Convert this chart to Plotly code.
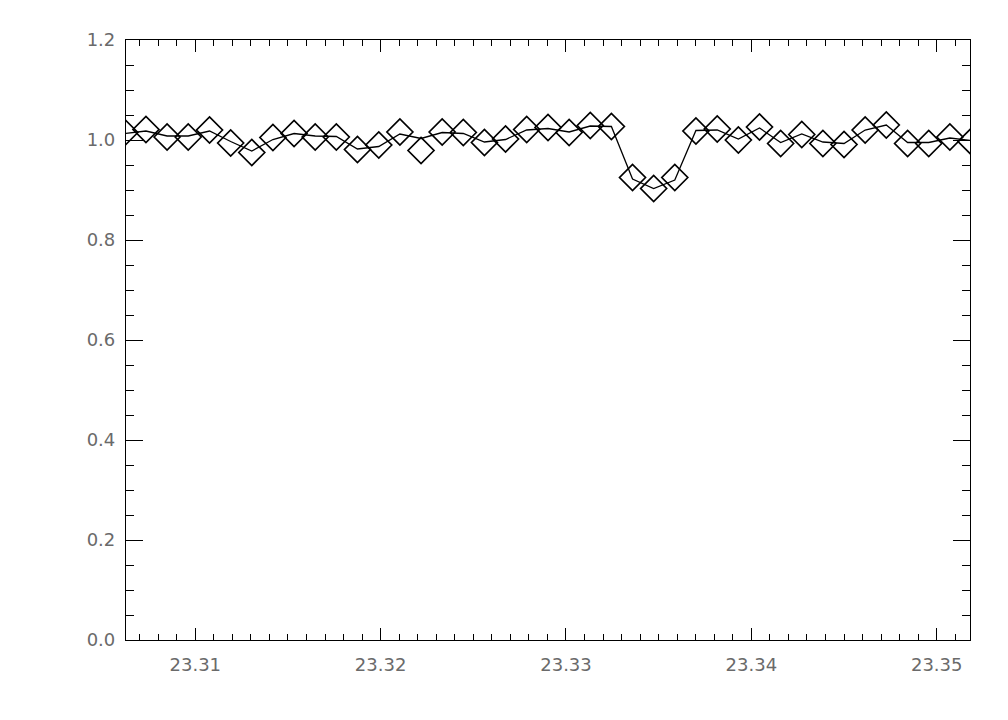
import plotly.graph_objects as go

# wavelength positions of the data points
wave = [23.30620, 23.30734, 23.30848, 23.30962, 23.31077, 23.31191, 23.31305,
        23.31419, 23.31533, 23.31647, 23.31761, 23.31875, 23.31990, 23.32104,
        23.32218, 23.32332, 23.32446, 23.32560, 23.32674, 23.32788, 23.32903,
        23.33017, 23.33131, 23.33245, 23.33359, 23.33473, 23.33587, 23.33701,
        23.33816, 23.33930, 23.34044, 23.34158, 23.34272, 23.34386, 23.34500,
        23.34614, 23.34728, 23.34843, 23.34957, 23.35071, 23.35185]

# observed flux (diamonds)
flux_obs = [1.015, 1.021, 1.006, 1.006, 1.020, 0.994, 0.975, 1.005, 1.013,
            1.006, 1.006, 0.981, 0.990, 1.016, 0.979, 1.016, 1.015, 0.995,
            1.002, 1.021, 1.025, 1.015, 1.029, 1.027, 0.925, 0.903, 0.925,
            1.018, 1.022, 1.000, 1.026, 0.993, 1.011, 0.993, 0.991, 1.020,
            1.030, 0.993, 0.993, 1.006, 0.997]

# model / smoothed flux (line)
flux_model = [1.013, 1.018, 1.008, 1.008, 1.018, 0.997, 0.978, 1.001, 1.013,
              1.008, 1.007, 0.982, 0.987, 1.012, 1.003, 1.015, 1.013, 0.996,
              1.001, 1.020, 1.023, 1.016, 1.028, 1.027, 0.922, 0.903, 0.920,
              1.019, 1.020, 1.002, 1.024, 0.995, 1.012, 0.996, 0.993, 1.020,
              1.030, 0.995, 0.995, 1.004, 0.999]

x_range = [23.306263, 23.351796]
y_range = [0.0, 1.2]

fig = go.Figure()
fig.add_trace(go.Scatter(x=wave, y=flux_model, mode="lines",
                         line=dict(color="black", width=1.3),
                         showlegend=False, hoverinfo="skip"))
fig.add_trace(go.Scatter(x=wave, y=flux_obs, mode="markers",
                         marker=dict(symbol="diamond-open", size=20,
                                     color="black", line=dict(width=1.7, color="black")),
                         showlegend=False))

tickfont = dict(family="DejaVu Sans", size=18, color="#6a6a6a")

fig.update_xaxes(range=x_range, showgrid=False, zeroline=False,
                 showline=True, linecolor="black", linewidth=1.2, mirror="allticks",
                 ticks="inside", ticklen=12, tickwidth=1, tickcolor="black",
                 tick0=23.31, dtick=0.01, tickformat=".2f",
                 minor=dict(ticks="inside", ticklen=6, dtick=0.001, tick0=23.31,
                            tickcolor="black", tickwidth=1, showgrid=False),
                 tickfont=tickfont, ticklabelstandoff=8)
fig.update_yaxes(range=y_range, showgrid=False, zeroline=False,
                 showline=True, linecolor="black", linewidth=1.2, mirror="allticks",
                 ticks="inside", ticklen=17, tickwidth=1, tickcolor="black",
                 tick0=0, dtick=0.2, tickformat=".1f",
                 minor=dict(ticks="inside", ticklen=8, dtick=0.05, tick0=0,
                            tickcolor="black", tickwidth=1, showgrid=False),
                 tickfont=tickfont, ticklabelstandoff=6)

fig.update_layout(width=1008, height=720,
                  margin=dict(l=118, r=46, t=32, b=88),
                  paper_bgcolor="white", plot_bgcolor="white")

fig.write_html("out.html")
